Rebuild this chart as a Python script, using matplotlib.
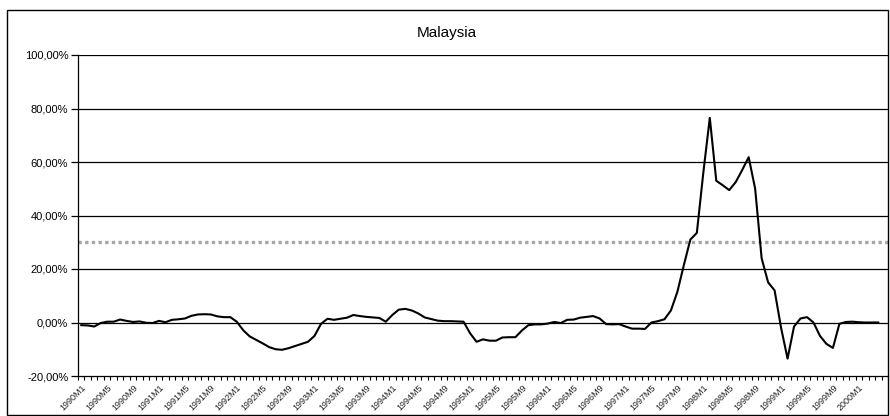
import matplotlib

matplotlib.use("Agg")
import matplotlib.pyplot as plt
from matplotlib.patches import Rectangle
from matplotlib.ticker import FuncFormatter

plt.rcParams["font.family"] = ["Liberation Sans", "DejaVu Sans"]

TITLE = "Malaysia"
# monthly categories 1990M1 .. 2000M4
MONTHS = [f"{y}M{m}" for y in range(1990, 2001) for m in range(1, 13)][:124]
THRESHOLD = 30.0  # dotted reference line (%)

# index values in percent
VALUES = [
    -1.0, -1.1, -1.5, -0.2, 0.3, 0.3, 1.1, 0.6, 0.2, 0.4,      # 1990
    -0.1, -0.2, 0.6, 0.1, 1.0, 1.2, 1.5, 2.5, 3.0, 3.1,        # 1990M11 - 1991M8
    3.0, 2.3, 2.0, 2.0, 0.3, -2.9, -5.2, -6.5, -7.8, -9.2,     # 1991M9 - 1992M6
    -10.0, -10.2, -9.6, -8.8, -8.0, -7.2, -5.0, -0.5, 1.4, 1.0,
    1.4, 1.8, 2.8, 2.4, 2.1, 1.9, 1.7, 0.3, 2.8, 4.8,
    5.1, 4.5, 3.4, 1.9, 1.3, 0.7, 0.5, 0.5, 0.4, 0.3,
    -4.0, -7.2, -6.3, -6.8, -6.8, -5.6, -5.5, -5.5, -3.0, -1.0,
    -0.7, -0.7, -0.4, 0.2, -0.2, 1.0, 1.1, 1.8, 2.1, 2.4,
    1.5, -0.6, -0.7, -0.6, -1.5, -2.3, -2.3, -2.4, 0.0, 0.5,
    1.2, 4.5, 11.5, 21.5, 31.0, 33.5, 56.0, 76.5, 53.0, 51.3,
    49.5, 52.5, 57.0, 61.8, 50.0, 24.0, 15.0, 12.0, -2.0, -13.5,
    -1.5, 1.5, 2.0, 0.0, -5.0, -8.0, -9.5, -0.5, 0.2, 0.3,
    0.1, 0.0, 0.0, 0.0,
]
Y_TICKS = [-20, 0, 20, 40, 60, 80, 100]
LABEL_EVERY = 4
N_SLOTS = len(MONTHS) + 1  # axis leaves one empty category slot at the right


def main() -> None:
    fig = plt.figure(figsize=(8.9, 4.16), dpi=100)
    fig.patches.append(Rectangle((7 / 890, 0.002), 881 / 890, 1 - 10 / 416 - 0.002,
                                 transform=fig.transFigure, fill=False, lw=1.0, ec="black"))
    ax = fig.add_axes([78 / 890, 1 - 376 / 416, 810 / 890, 321 / 416])

    x = list(range(len(VALUES)))
    ax.plot(x, VALUES, color="black", lw=1.5, solid_joinstyle="round", zorder=3)
    ax.axhline(THRESHOLD, color="#a6a6a6", lw=2.4, ls=(0, (1, 1)), zorder=2)

    for y in Y_TICKS[1:]:
        ax.axhline(y, color="black", lw=0.9, zorder=1)

    ax.set_xlim(-0.5, N_SLOTS - 0.5)
    ax.set_ylim(-20, 100)
    ax.set_yticks(Y_TICKS)
    ax.yaxis.set_major_formatter(FuncFormatter(lambda v, _: f"{v:.2f}%".replace(".", ",")))
    ax.tick_params(axis="y", length=5, width=0.9, labelsize=8, pad=2)

    ax.set_xticks(range(0, len(MONTHS), LABEL_EVERY))
    ax.set_xticklabels(MONTHS[::LABEL_EVERY], rotation=45, ha="right", va="top",
                       rotation_mode="anchor", fontsize=6.5, color="#222222")
    ax.set_xticks([i - 0.5 for i in range(N_SLOTS + 1)], minor=True)
    ax.tick_params(axis="x", which="major", length=0, pad=5)
    ax.tick_params(axis="x", which="minor", length=3, width=0.8)

    for side in ("top", "right"):
        ax.spines[side].set_visible(False)
    for side in ("left", "bottom"):
        ax.spines[side].set_linewidth(0.9)

    fig.text(447 / 890, 1 - 33 / 416, TITLE, ha="center", va="center", fontsize=11)
    fig.savefig("out.png", dpi=100)
    plt.close(fig)


if __name__ == "__main__":
    main()
